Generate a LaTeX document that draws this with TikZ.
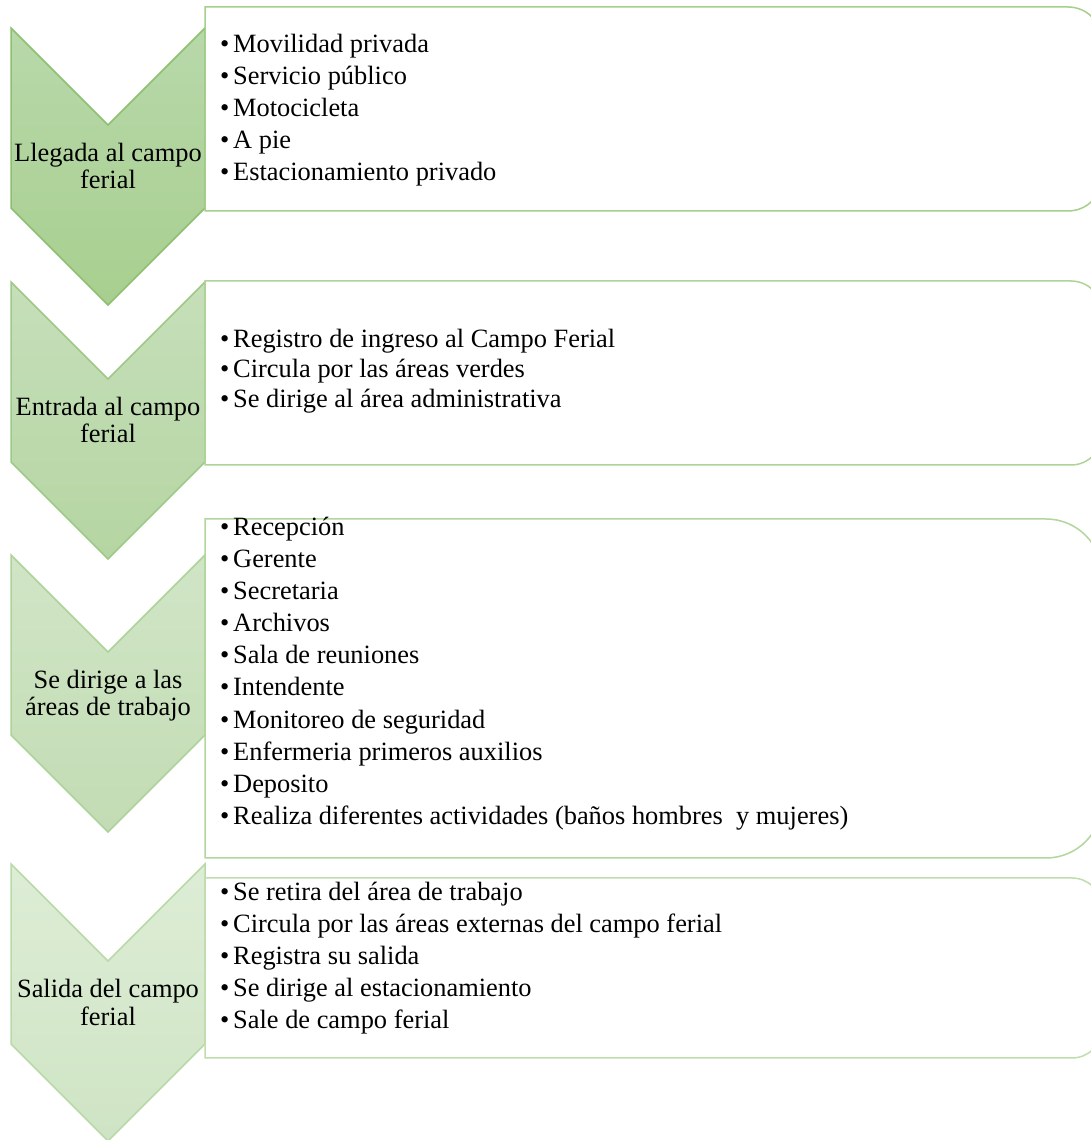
\documentclass[tikz,border=0pt]{standalone}
\usepackage{fontspec}
\setmainfont{Liberation Serif}
\definecolor{ca1}{HTML}{B8D8AA}\definecolor{cb1}{HTML}{A8CF8F}\definecolor{cs1}{HTML}{8CC06F}
\definecolor{ca2}{HTML}{C6DFBA}\definecolor{cb2}{HTML}{B5D5A2}\definecolor{cs2}{HTML}{9DCA86}
\definecolor{ca3}{HTML}{D0E5C6}\definecolor{cb3}{HTML}{C3DCB4}\definecolor{cs3}{HTML}{ADD39A}
\definecolor{ca4}{HTML}{DDEDD6}\definecolor{cb4}{HTML}{CFE4C4}\definecolor{cs4}{HTML}{B9DAA8}
\definecolor{bs1}{HTML}{A5CF8B}\definecolor{bs2}{HTML}{AFD497}\definecolor{bs3}{HTML}{B2D69C}\definecolor{bs4}{HTML}{C0DDAE}
\newcommand{\bul}{\makebox[13pt][l]{\textbullet}}
\begin{document}
\begin{tikzpicture}[x=1pt,y=1pt,
  lbl/.style={font=\fontsize{26.4}{27}\selectfont, inner sep=0pt, anchor=base},
  itm/.style={font=\fontsize{26.4}{32}\selectfont, inner sep=0pt, anchor=base west},
  chev/.style={line width=1.5pt, line join=miter},
  boxs/.style={line width=1.5pt, fill=white}]
\clip (0,0) rectangle (1091,1140);
\fill[white] (0,0) rectangle (1091,1140);
% chevrons
\draw[chev, top color=ca1, bottom color=cb1, draw=cs1] (11,1112) -- (108,1015) -- (205,1112) -- (205,932) -- (108,835) -- (11,932) -- cycle;
\draw[chev, top color=ca2, bottom color=cb2, draw=cs2] (11,858) -- (108,761) -- (205,858) -- (205,678) -- (108,581) -- (11,678) -- cycle;
\draw[chev, top color=ca3, bottom color=cb3, draw=cs3] (11,585) -- (108,488) -- (205,585) -- (205,405) -- (108,308) -- (11,405) -- cycle;
\draw[chev, top color=ca4, bottom color=cb4, draw=cs4] (11,276) -- (108,179) -- (205,276) -- (205,96) -- (108,-1) -- (11,96) -- cycle;
% boxes
\draw[boxs, draw=bs1] (205,1133) -- (1068,1133) arc[start angle=90,end angle=0,radius=34] -- (1102,963) arc[start angle=0,end angle=-90,radius=34] -- (205,929) -- cycle;
\draw[boxs, draw=bs2] (205,859) -- (1071,859) arc[start angle=90,end angle=0,radius=31] -- (1102,706) arc[start angle=0,end angle=-90,radius=31] -- (205,675) -- cycle;
\draw[boxs, draw=bs3] (205,621) -- (1046,621) arc[start angle=90,end angle=0,radius=56] -- (1102,338) arc[start angle=0,end angle=-90,radius=56] -- (205,282) -- cycle;
\draw[boxs, draw=bs4] (205,262) -- (1072,262) arc[start angle=90,end angle=0,radius=30] -- (1102,112) arc[start angle=0,end angle=-90,radius=30] -- (205,82) -- cycle;
% chevron labels
\node[lbl] (l1a) at (108,978) {Llegada al campo};
\node[lbl] (l1b) at (108,951) {ferial};
\node[lbl] (l2a) at (108,724) {Entrada al campo};
\node[lbl] (l2b) at (108,697) {ferial};
\node[lbl] (l3a) at (108,451) {Se dirige a las};
\node[lbl] (l3b) at (108,424) {áreas de trabajo};
\node[lbl] (l4a) at (108,142) {Salida del campo};
\node[lbl] (l4b) at (108,114) {ferial};
% box 1
\node[itm] (i11) at (220,1087) {\bul Movilidad privada};
\node[itm] (i12) at (220,1055) {\bul Servicio público};
\node[itm] (i13) at (220,1023) {\bul Motocicleta};
\node[itm] (i14) at (220,991) {\bul A pie};
\node[itm] (i15) at (220,959) {\bul Estacionamiento privado};
% box 2
\node[itm] (i21) at (220,792) {\bul Registro de ingreso al Campo Ferial};
\node[itm] (i22) at (220,762) {\bul Circula por las áreas verdes};
\node[itm] (i23) at (220,732) {\bul Se dirige al área administrativa};
% box 3
\node[itm] (i31) at (220,604) {\bul Recepción};
\node[itm] (i32) at (220,572) {\bul Gerente};
\node[itm] (i33) at (220,540) {\bul Secretaria};
\node[itm] (i34) at (220,508) {\bul Archivos};
\node[itm] (i35) at (220,476) {\bul Sala de reuniones};
\node[itm] (i36) at (220,444) {\bul Intendente};
\node[itm] (i37) at (220,411) {\bul Monitoreo de seguridad};
\node[itm] (i38) at (220,379) {\bul Enfermeria primeros auxilios};
\node[itm] (i39) at (220,347) {\bul Deposito};
\node[itm] (i310) at (220,315) {\bul Realiza diferentes actividades (baños hombres\ \ y mujeres)};
% box 4
\node[itm] (i41) at (220,239) {\bul Se retira del área de trabajo};
\node[itm] (i42) at (220,207) {\bul Circula por las áreas externas del campo ferial};
\node[itm] (i43) at (220,175) {\bul Registra su salida};
\node[itm] (i44) at (220,143) {\bul Se dirige al estacionamiento};
\node[itm] (i45) at (220,111) {\bul Sale de campo ferial};
\end{tikzpicture}
\end{document}
